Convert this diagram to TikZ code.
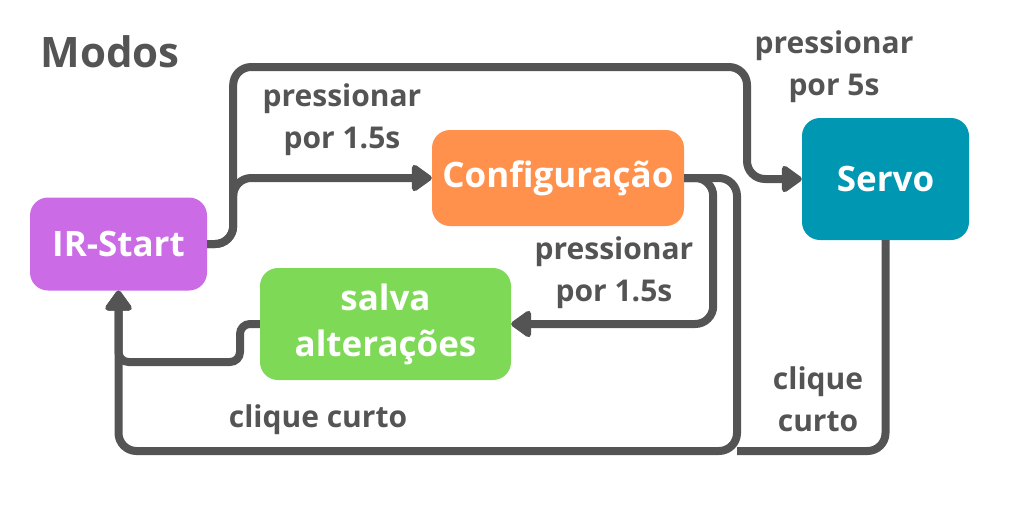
\documentclass[tikz,border=0pt]{standalone}
\usepackage{fontspec}
\setmainfont{Open Sans}
\usetikzlibrary{arrows.meta}
\definecolor{wiregray}{HTML}{545454}
\definecolor{irpurple}{HTML}{CB6CE6}
\definecolor{conforange}{HTML}{FF914D}
\definecolor{servoteal}{HTML}{0097B2}
\definecolor{salvagreen}{HTML}{7ED957}
\begin{document}
\begin{tikzpicture}[x=1pt, y=-1pt,
                    mode/.style={rounded corners=18pt, text=white, align=center,
                                 font=\bfseries\fontsize{35}{46}\selectfont},
                    lbl/.style={text=wiregray, align=center,
                                font=\bfseries\fontsize{30}{42}\selectfont},
                    wire/.style={draw=wiregray, line width=8pt, rounded corners=18pt},
                    tip/.style={-{Triangle[length=22pt,width=30pt,round]}}
                    ]
                    \useasboundingbox (0,0) rectangle (1024,512);

                    \node[mode, fill=irpurple, minimum width=177pt, minimum height=93pt] (ir) at (118.5,244) {IR-Start};
                    \node[mode, fill=conforange, minimum width=252pt, minimum height=96pt] (conf) at (558,178) {Configuração};
                    \node[mode, fill=servoteal, minimum width=167pt, minimum height=122pt] (servo) at (885.5,179) {Servo};
                    \node[mode, fill=salvagreen, minimum width=251pt, minimum height=112pt] (salva) at (385.5,324) {salva\\alterações};

                    \node[lbl, font=\bfseries\fontsize{42}{46}\selectfont] (modos) at (110,52) {Modos};
                    \node[lbl] (p15a) at (342,120) {pressionar\\por 1.5s};
                    \node[lbl] (p5) at (834,67) {pressionar\\por 5s};
                    \node[lbl] (p15b) at (614,273) {pressionar\\por 1.5s};
                    \node[lbl] (cc1) at (318,420) {clique curto};
                    \node[lbl] (cc2) at (818,399) {clique\\curto};

                    \coordinate (topbend) at (747,67);
                    \coordinate (bottom) at (737,451);
                    \coordinate (salvabend) at (240,362);

                    \draw[wire, tip] (ir.east) -- ++(26,0) |- (conf.west);
                    \draw[wire, tip] (ir.east) -- ++(26,0) |- (topbend) |- (servo.west);
                    \draw[wire, tip] (conf.east) -- ++(29,0) |- (salva.east);
                    \draw[wire, tip] (conf.east) -| (bottom) -| (ir.south);
                    \draw[wire] (servo.south) |- (bottom);
                    \draw[wire, tip, rounded corners=10pt] (salva.west) -| (salvabend) -| (ir.south);
                \end{tikzpicture}
\end{document}
